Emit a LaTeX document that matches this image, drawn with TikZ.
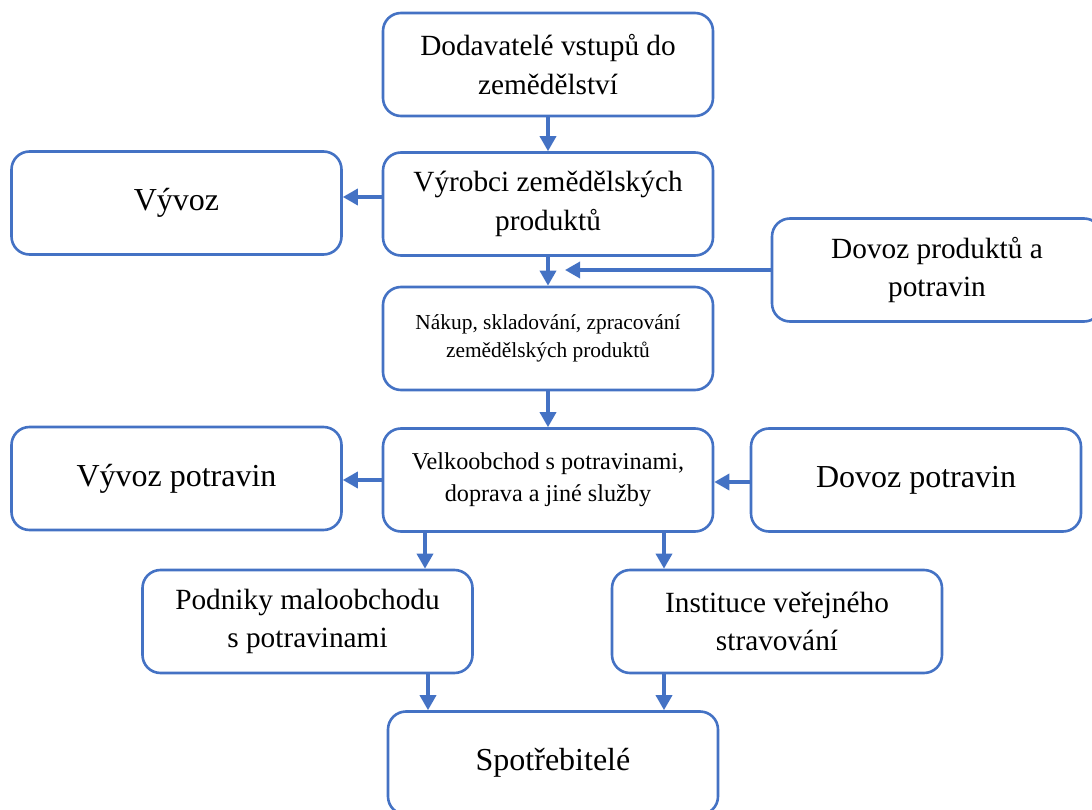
\documentclass[tikz,border=0pt]{standalone}
\usepackage{fontspec}
\setmainfont{Liberation Serif}
\usetikzlibrary{arrows.meta}
\definecolor{bl}{HTML}{4472C4}
\tikzset{
  box/.style={draw=bl, line width=2.6pt, rounded corners=18pt, fill=white,
    minimum width=330pt, minimum height=103pt, align=center, inner sep=0pt},
  mid/.style={font=\fontsize{29.3}{38.5}\selectfont},
  big/.style={font=\fontsize{32}{40}\selectfont},
  small/.style={font=\fontsize{21.4}{28}\selectfont},
  vel/.style={font=\fontsize{24.2}{32}\selectfont},
  arr/.style={draw=bl, line width=3.4pt, -{Triangle[length=15pt,width=16pt]}}
}
\begin{document}
\begin{tikzpicture}[x=1pt,y=-1pt]
\useasboundingbox (0,0) rectangle (1092,810);
\node[box,mid] (dod) at (548,64.5) {Dodavatelé vstupů do\\zemědělství};
\node[box,mid] (vyr) at (548,204) {Výrobci zemědělských\\produktů};
\node[box,big] (vyv) at (176.5,203) {Vývoz};
\node[box,mid] (dpp) at (937,270) {Dovoz produktů a\\potravin};
\node[box,small] (nak) at (548,338.5) {Nákup, skladování, zpracování\\zemědělských produktů};
\node[box,vel] (vel) at (548,480) {Velkoobchod s potravinami,\\doprava a jiné služby};
\node[box,big] (vyvp) at (176.5,478.5) {Vývoz potravin};
\node[box,big] (dp) at (916,480) {Dovoz potravin};
\node[box,mid] (pod) at (307.5,621.5) {Podniky maloobchodu\\s potravinami};
\node[box,mid] (ins) at (777,621.5) {Instituce veřejného\\stravování};
\node[box,big] (spo) at (553,763) {Spotřebitelé};
\coordinate (jn) at (565,270);

\draw[arr] (dod) -- (vyr);
\draw[arr] ([yshift=7pt]vyr.west) -- ([yshift=7pt]vyr.west -| vyv.east);
\draw[arr] (vyr) -- (nak);
\draw[arr] (dpp.west) -- (jn);
\draw[arr] (nak) -- (vel);
\draw[arr] (vel.west) -- (vel.west -| vyvp.east);
\draw[arr] ([yshift=-2pt]dp.west) -- ([yshift=-2pt]dp.west -| vel.east);
\draw[arr] ([xshift=-123pt]vel.south) -- ([xshift=-123pt]vel.south |- pod.north);
\draw[arr] ([xshift=116pt]vel.south) -- ([xshift=116pt]vel.south |- ins.north);
\draw[arr] ([xshift=120.5pt]pod.south) -- ([xshift=120.5pt]pod.south |- spo.north);
\draw[arr] ([xshift=-113pt]ins.south) -- ([xshift=-113pt]ins.south |- spo.north);
\end{tikzpicture}
\end{document}
